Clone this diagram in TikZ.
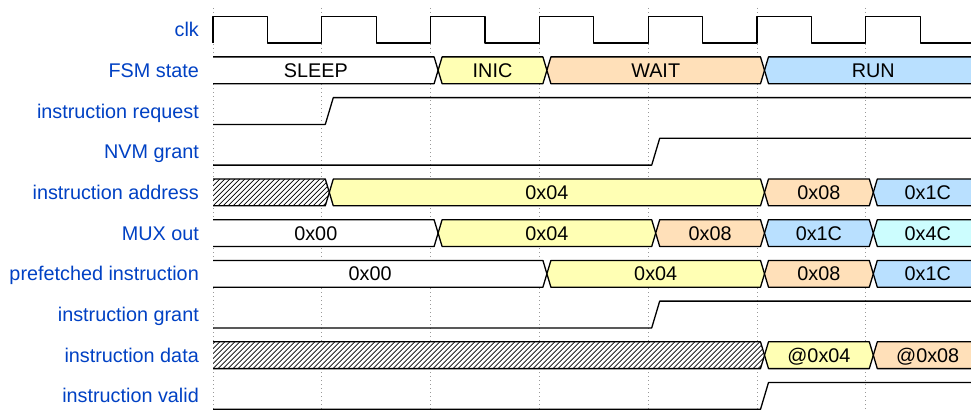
\documentclass[tikz,border=0pt]{standalone}
\usepackage{fontspec}
\setmainfont{Liberation Sans}
\definecolor{wlab}{HTML}{0041C4}
\definecolor{wy}{HTML}{FFFFB4}
\definecolor{wo}{HTML}{FFE0B9}
\definecolor{wb}{HTML}{B9E0FF}
\definecolor{wc}{HTML}{CCFDFE}
\tikzset{
  wave/.style={line width=1.3pt, line join=round},
  lab/.style={anchor=base east, text=wlab, font=\fontsize{19.8}{22}\selectfont, inner sep=0pt},
  val/.style={anchor=base, text=black, font=\fontsize{19.8}{22}\selectfont, inner sep=0pt},
  gridl/.style={black!40, line width=0.8pt, dash pattern=on 1pt off 3pt},
  hatchl/.style={line width=0.7pt}
}
% data segment: name, centre y, k0, k1, fill, text
\newcommand\dseg[6]{%
  \pgfmathsetmacro\xa{213+108.8*#3}%
  \pgfmathsetmacro\xb{213+108.8*#4}%
  \pgfmathsetmacro\yt{#2-13.4}%
  \pgfmathsetmacro\yb{#2+13.4}%
  \ifnum#3=0
    \fill[#5] (\xa,\yt) -- (\xb+3.5,\yt) -- (\xb+7.5,#2) -- (\xb+3.5,\yb) -- (\xa,\yb) -- cycle;
    \draw[wave] (\xa,\yt) -- (\xb+3.5,\yt) -- (\xb+7.5,#2) -- (\xb+3.5,\yb) -- (\xa,\yb);
    \pgfmathsetmacro\xt{(\xa+\xb)/2-6}%
  \else
    \filldraw[wave,fill=#5] (\xa+11.5,\yt) -- (\xb+3.5,\yt) -- (\xb+7.5,#2) -- (\xb+3.5,\yb) -- (\xa+11.5,\yb) -- (\xa+7.5,#2) -- cycle;
    \pgfmathsetmacro\xt{(\xa+\xb)/2+7.5}%
  \fi
  \node[val] (#1) at (\xt,#2+7) {#6};
}
% hatched (undefined) segment starting at k=0: centre y, k1
\newcommand\hseg[2]{%
  \pgfmathsetmacro\xa{213}%
  \pgfmathsetmacro\xb{213+108.8*#2}%
  \pgfmathsetmacro\yt{#1-13.4}%
  \pgfmathsetmacro\yb{#1+13.4}%
  \pgfmathtruncatemacro\hn{(\xb-\xa+50)/5}%
  \begin{scope}
    \clip (\xa,\yt) -- (\xb+3.5,\yt) -- (\xb+7.5,#1) -- (\xb+3.5,\yb) -- (\xa,\yb) -- cycle;
    \fill[white] (\xa,\yt) rectangle (\xb+10,\yb);
    \foreach \i in {0,...,\hn} {
      \pgfmathsetmacro\t{\xa-30+5*\i}
      \draw[hatchl] (\t,\yb) -- (\t+26.8,\yt);
    }
  \end{scope}
  \draw[wave] (\xa,\yt) -- (\xb+3.5,\yt) -- (\xb+7.5,#1) -- (\xb+3.5,\yb) -- (\xa,\yb);
}
% low then rising: centre y, k
\newcommand\riseat[2]{%
  \pgfmathsetmacro\xr{213+108.8*#2}%
  \draw[wave] (213,#1+13.4) -- (\xr+3.5,#1+13.4) -- (\xr+11.5,#1-13.4) -- (980,#1-13.4);
}
\begin{document}
\begin{tikzpicture}[x=1pt,y=-1pt]
\useasboundingbox (0,0) rectangle (971,412);
\clip (0,0) rectangle (971,412);
\fill[white] (0,0) rectangle (971,412);
% grid
\foreach \k in {0,...,7} \draw[gridl] (213+108.8*\k,8) -- (213+108.8*\k,412);
% labels
\node[lab] (l0) at (199,36.6) {clk};
\node[lab] (l1) at (199,77.3) {FSM state};
\node[lab] (l2) at (199,118.0) {instruction request};
\node[lab] (l3) at (199,158.7) {NVM grant};
\node[lab] (l4) at (199,199.4) {instruction address};
\node[lab] (l5) at (199,240.1) {MUX out};
\node[lab] (l6) at (199,280.8) {prefetched instruction};
\node[lab] (l7) at (199,321.5) {instruction grant};
\node[lab] (l8) at (199,362.2) {instruction data};
\node[lab] (l9) at (199,402.9) {instruction valid};
% clk
\draw[wave] (213,43) \foreach \k in {0,...,6}{ -- (213+108.8*\k,16.2) -- (267.4+108.8*\k,16.2) -- (267.4+108.8*\k,43) -- (321.8+108.8*\k,43)};
% FSM state
\dseg{s1}{70.3}{0}{2}{white}{SLEEP}
\dseg{s2}{70.3}{2}{3}{wy}{INIC}
\dseg{s3}{70.3}{3}{5}{wo}{WAIT}
\dseg{s4}{70.3}{5}{7}{wb}{RUN}
% instruction request
\riseat{111.0}{1}
% NVM grant
\riseat{151.7}{4}
% instruction address
\hseg{192.4}{1}
\dseg{a2}{192.4}{1}{5}{wy}{0x04}
\dseg{a3}{192.4}{5}{6}{wo}{0x08}
\dseg{a4}{192.4}{6}{7}{wb}{0x1C}
% MUX out
\dseg{m1}{233.1}{0}{2}{white}{0x00}
\dseg{m2}{233.1}{2}{4}{wy}{0x04}
\dseg{m3}{233.1}{4}{5}{wo}{0x08}
\dseg{m4}{233.1}{5}{6}{wb}{0x1C}
\dseg{m5}{233.1}{6}{7}{wc}{0x4C}
% prefetched instruction
\dseg{p1}{273.8}{0}{3}{white}{0x00}
\dseg{p2}{273.8}{3}{5}{wy}{0x04}
\dseg{p3}{273.8}{5}{6}{wo}{0x08}
\dseg{p4}{273.8}{6}{7}{wb}{0x1C}
% instruction grant
\riseat{314.5}{4}
% instruction data
\hseg{355.2}{5}
\dseg{d2}{355.2}{5}{6}{wy}{@0x04}
\dseg{d3}{355.2}{6}{7}{wo}{@0x08}
% instruction valid
\riseat{395.9}{5}
\end{tikzpicture}
\end{document}
